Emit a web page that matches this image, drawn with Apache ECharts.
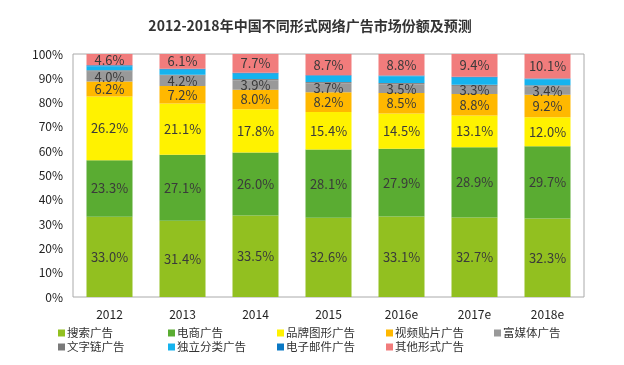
<!DOCTYPE html>
<html><head><meta charset="utf-8">
<script src="https://cdn.jsdelivr.net/npm/echarts@6/dist/echarts.min.js"></script>
<style>html,body{margin:0;padding:0;background:#fff}#c{width:624px;height:365px}</style>
</head><body><div id="c"></div>
<script>
const titleText = '2012-2018年中国不同形式网络广告市场份额及预测';
const categories = ['2012','2013','2014','2015','2016e','2017e','2018e'];
const yTicks = ['0%','10%','20%','30%','40%','50%','60%','70%','80%','90%','100%'];
const seriesNames = ['搜索广告','电商广告','品牌图形广告','视频贴片广告','富媒体广告','文字链广告','独立分类广告','电子邮件广告','其他形式广告'];
const search   = [33.0, 31.4, 33.5, 32.6, 33.1, 32.7, 32.3];
const ecommerce= [23.3, 27.1, 26.0, 28.1, 27.9, 28.9, 29.7];
const brand    = [26.2, 21.1, 17.8, 15.4, 14.5, 13.1, 12.0];
const video    = [6.2, 7.2, 8.0, 8.2, 8.5, 8.8, 9.2];
const richMedia= [4.0, 4.2, 3.9, 3.7, 3.5, 3.3, 3.4];
const textLink = [0.6, 0.5, 0.5, 0.5, 0.6, 0.5, 0.5];
const classified=[1.7, 2.0, 2.2, 2.4, 2.7, 2.9, 2.5];
const email    = [0.4, 0.4, 0.4, 0.4, 0.4, 0.4, 0.3];
const other    = [4.6, 6.1, 7.7, 8.7, 8.8, 9.4, 10.1];

const dataList = [search, ecommerce, brand, video, richMedia, textLink, classified, email, other];
const colors = ['#92c020','#5aac32','#fff200','#ffb800','#999999','#888888','#16b3ee','#0a8ad4','#f17c7c'];
const legendColors = ['#92c020','#5aac32','#fff200','#ffb800','#999999','#7a7a7a','#16b3ee','#0a78c4','#f17c7c'];
const labeled = [true,true,true,true,true,false,false,false,true];
const font = '"Noto Sans CJK SC", "Noto Sans", sans-serif';

const chart = echarts.init(document.getElementById('c'));
const series = seriesNames.map((n,i)=>({
  name:n, type:'bar', stack:'a', barWidth:46,
  itemStyle:{color:colors[i]},
  label:{show:labeled[i], position:'inside', formatter:p=>p.value.toFixed(1)+'%', color:'#3a3a3a', fontSize:13, fontFamily:font},
  data:dataList[i]
}));
const legendCols = [[0,5],[1,6],[2,7],[3,8],[4]];
const legendLeft = [53,163,272,381,489];
const legends = legendCols.map((c,k)=>({
  orient:'vertical', left:legendLeft[k], top:321, itemWidth:7, itemHeight:7, itemGap:0,
  icon:'rect', data:c.map(i=>({name:seriesNames[i], itemStyle:{color:legendColors[i]}})),
  textStyle:{fontSize:11.5, lineHeight:14, color:'#333', fontFamily:font, padding:[0,0,0,-3]},
  selectedMode:false
}));
chart.setOption({
  animation:false,
  title:{text:titleText, left:305, textAlign:'center', top:14, textStyle:{fontSize:14, fontWeight:'bold', color:'#333', fontFamily:font}},
  grid:{left:73, right:40, top:54, bottom:68, show:true, borderColor:'#aaa', borderWidth:1},
  legend:legends,
  xAxis:{type:'category', data:categories, axisLine:{show:false}, axisTick:{show:false},
    axisLabel:{fontSize:12, color:'#222', margin:11, fontFamily:font}},
  yAxis:{type:'value', min:0, max:100, interval:10, splitLine:{show:false}, axisLine:{show:false}, axisTick:{show:false},
    axisLabel:{formatter:v=>yTicks[Math.round(v/10)], fontSize:12, color:'#222', margin:10, fontFamily:font}},
  series:series
});
</script></body></html>
